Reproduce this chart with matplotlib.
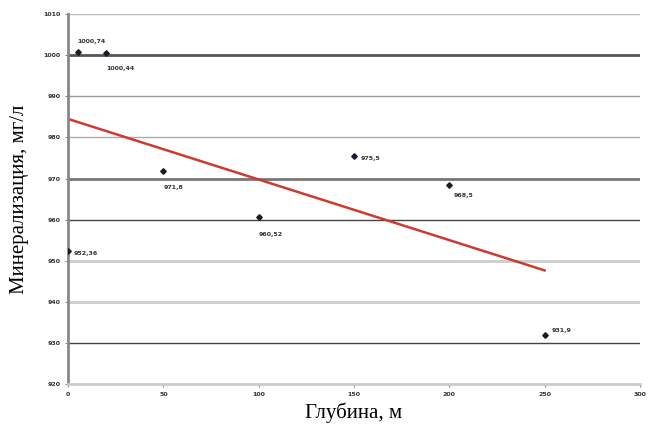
import numpy as np
import matplotlib
matplotlib.use("Agg")
import matplotlib.pyplot as plt

# depth (m) and mineralization (mg/l)
depth = [0, 5, 20, 50, 100, 150, 200, 250]
mineral = [952.36, 1000.74, 1000.44, 971.8, 960.52, 975.5, 968.5, 931.9]
point_labels = ["952,36", "1000,74", "1000,44", "971,8", "960,52", "975,5", "968,5", "931,9"]
yticks = list(range(920, 1011, 10))
xticks = list(range(0, 301, 50))

# label offsets in points (dx, dy)
offsets = [(4, -2), (0, 8), (0, -11), (0, -12), (0, -12), (5, -2), (3, -8), (5, 3)]

fig = plt.figure(figsize=(6.49, 4.30), dpi=100)
ax = fig.add_axes([0.105, 0.107, 0.881, 0.860])

grid_cols = {1010: "#bbbbbb", 1000: "#555555", 990: "#999999", 980: "#aaaaaa",
             970: "#777777", 960: "#444444", 950: "#cccccc", 940: "#cccccc",
             930: "#444444", 920: "#cccccc"}
grid_w = {1000: 2.0, 970: 2.0, 950: 2.0, 940: 2.0}
for t in yticks:
    ax.axhline(t, color=grid_cols[t], lw=grid_w.get(t, 1.0), zorder=1)

ax.plot(depth, mineral, linestyle="none", marker="D", ms=2.8, color="#1a1a2a", zorder=3)
for x, y, s, (dx, dy) in zip(depth, mineral, point_labels, offsets):
    ax.annotate(s, (x, y), xytext=(dx, dy), textcoords="offset points",
                fontsize=4.5, fontweight="bold", color="#333333", va="center")

k, b = np.polyfit(depth, mineral, 1)
xs = np.array([0, 250])
ax.plot(xs, k * xs + b, color="#cc3b2e", lw=1.8, zorder=2)

ax.set_xlim(0, 300)
ax.set_ylim(920, 1010)
ax.set_xticks(xticks)
ax.set_yticks(yticks)
ax.tick_params(labelsize=4.5, length=2, color="#888888", labelcolor="#333333")
for lab in ax.get_xticklabels() + ax.get_yticklabels():
    lab.set_fontweight("bold")
ax.spines["top"].set_visible(False)
ax.spines["right"].set_visible(False)
ax.spines["left"].set_color("#888888")
ax.spines["left"].set_linewidth(2)
ax.spines["bottom"].set_color("#cccccc")
ax.spines["bottom"].set_linewidth(2)

ax.set_xlabel("Глубина, м", family="Liberation Serif", fontsize=15, labelpad=4)
ax.set_ylabel("Минерализация, мг/л", family="Liberation Serif", fontsize=15, labelpad=10)

fig.savefig("out.png", dpi=100)
